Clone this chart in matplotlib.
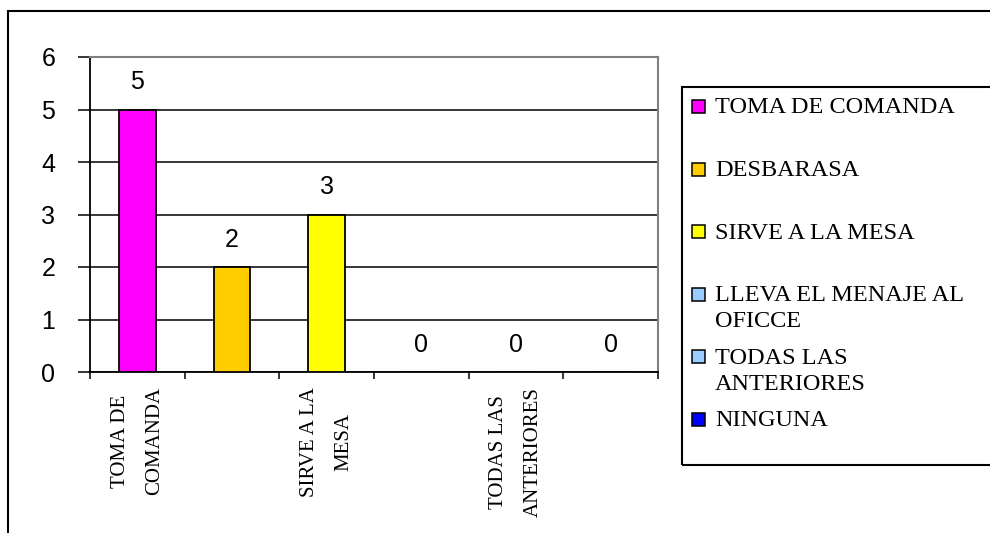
import matplotlib
matplotlib.use("Agg")
import matplotlib.pyplot as plt
from matplotlib.patches import Rectangle

# datos del grafico
categorias = ["TOMA DE COMANDA", "DESBARASA", "SIRVE A LA MESA",
              "LLEVA EL MENAJE AL OFICCE", "TODAS LAS ANTERIORES", "NINGUNA"]
valores = [5, 2, 3, 0, 0, 0]
colores = ["#FF00FF", "#FFCC00", "#FFFF00", "#99CCFF", "#99CCFF", "#0000FF"]
etiquetas_x = ["TOMA DE\nCOMANDA", "", "SIRVE A LA\nMESA", "", "TODAS LAS\nANTERIORES", ""]
etiquetas_leyenda = ["TOMA DE COMANDA", "DESBARASA", "SIRVE A LA MESA",
                     "LLEVA EL MENAJE AL\nOFICCE", "TODAS LAS\nANTERIORES", "NINGUNA"]

W, H = 990, 533
fig = plt.figure(figsize=(W / 100, H / 100), dpi=100)


def fx(px):
    return px / W


def fy(py):
    return 1 - py / H


# marco exterior
fig.patches.append(Rectangle((fx(8), fy(560)), fx(1100), fy(11) - fy(560),
                             transform=fig.transFigure, fill=False,
                             edgecolor="black", linewidth=1.5))

ax = fig.add_axes([fx(90), fy(372), fx(658) - fx(90), fy(57) - fy(372)])
x = list(range(len(valores)))
ax.bar(x, valores, width=0.39, color=colores, edgecolor="black", linewidth=1.3, zorder=3)

ax.set_xlim(-0.5, 5.5)
ax.set_ylim(0, 6)
ax.set_yticks(range(0, 7))
ax.yaxis.grid(True, color="black", linewidth=1.1, zorder=0)
ax.set_axisbelow(True)

for s in ["top", "right"]:
    ax.spines[s].set_color("#808080")
    ax.spines[s].set_linewidth(1.5)
for s in ["left", "bottom"]:
    ax.spines[s].set_linewidth(1.3)

ax.tick_params(axis="y", length=9, width=1.1, pad=16, labelsize=18)
for t in ax.get_yticklabels():
    t.set_fontfamily("Liberation Sans")

ax.set_xticks(x)
ax.set_xticklabels(etiquetas_x, rotation=90, fontsize=15, family="Liberation Serif",
                   va="top", ha="center", linespacing=2.1)
ax.tick_params(axis="x", which="major", length=0, pad=11)
ax.set_xticks([i - 0.5 for i in range(len(valores) + 1)], minor=True)
ax.tick_params(axis="x", which="minor", length=5, width=1.1)

for xi, v in zip(x, valores):
    ax.annotate(str(v), (xi, v), xytext=(0, 11), textcoords="offset points",
                ha="center", va="bottom", fontsize=18, family="Liberation Sans")

# leyenda
fig.patches.append(Rectangle((fx(682), fy(465)), fx(400), fy(87) - fy(465),
                             transform=fig.transFigure, fill=False,
                             edgecolor="black", linewidth=1.5))
y0, paso = 107, 62.6
for i, (lab, col) in enumerate(zip(etiquetas_leyenda, colores)):
    yc = y0 + i * paso
    fig.patches.append(Rectangle((fx(692), fy(yc + 6)), fx(13), fy(yc - 7) - fy(yc + 6),
                                 transform=fig.transFigure, facecolor=col,
                                 edgecolor="black", linewidth=1.1))
    for j, linea in enumerate(lab.split("\n")):
        fig.text(fx(715), fy(yc + 1 + j * 26), linea, fontsize=17.5,
                 family="Liberation Serif", va="center", ha="left")

fig.savefig("out.png", dpi=100)
